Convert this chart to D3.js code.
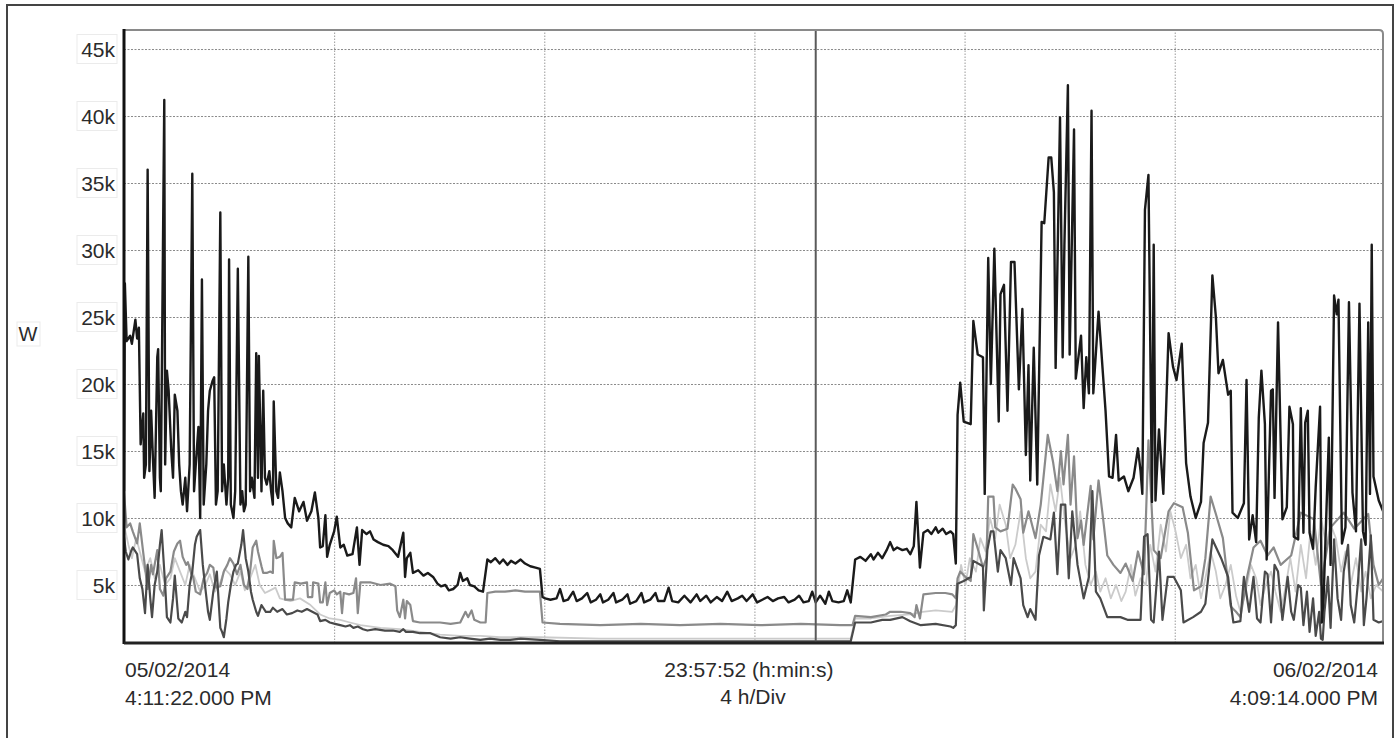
<!DOCTYPE html>
<html>
<head>
<meta charset="utf-8">
<script src="https://cdn.jsdelivr.net/npm/d3@7"></script>
<style>
  body { margin: 0; background: #fff; }
  svg text { font-family: "Liberation Sans", Arial, sans-serif; fill: #2b2b2b; }
  .grid line { stroke: #8a8a8a; stroke-width: 1; stroke-dasharray: 2 1.5; }
  .grid.vert line { stroke: #9a9a9a; stroke-dasharray: 1.5 1.5; }
  .grid path { display: none; }
</style>
</head>
<body>
<svg id="chart" width="1400" height="738"></svg>
<script>
// time in minutes since 05/02/2014 4:11:22 PM, power in kW
var spanMinutes = 1437.87;          // 23:57:52
var divMinutes = [240, 480, 720, 960, 1200];   // 4 h/Div
var cursorMinute = 790;
var yTicks = [5, 10, 15, 20, 25, 30, 35, 40, 45];

var total = [
  [0,12],[1,27.5],[3,23.2],[7,23.6],[9,23.0],[13,24.8],[15,23.4],[17,24.2],[19,15.5],[22,17.8],
  [23,13.0],[25,14.0],[27,36.0],[29,13.5],[31,18.0],[33,14.5],[35,11.5],[38,22.0],[39,22.6],[41,13.0],
  [42,12.0],[46,41.2],[47,14.0],[49,21.0],[51,19.5],[54,15.0],[56,13.0],[58,19.2],[61,18.0],[63,14.0],
  [65,12.0],[67,11.0],[70,13.0],[72,10.5],[75,14.0],[78,35.7],[80,12.0],[82,14.0],[85,16.8],[87,10.0],
  [89,27.8],[91,11.0],[94,14.0],[96,18.0],[98,19.5],[101,20.2],[103,20.5],[105,11.0],[107,12.0],[110,32.8],
  [112,12.0],[114,14.0],[117,11.0],[119,13.0],[120,29.3],[122,11.0],[125,10.0],[127,12.0],[130,28.6],[133,11.0],
  [135,12.0],[137,10.5],[139,11.0],[142,29.5],[144,12.0],[146,13.0],[149,11.5],[151,22.3],[153,13.0],[154,22.1],
  [157,12.0],[159,19.5],[161,13.0],[163,12.5],[166,13.5],[168,12.0],[170,11.0],[171,18.7],[174,12.0],[176,11.5],
  [178,13.4],[181,12.0],[184,10.0],[187,9.6],[191,9.3],[195,11.5],[200,10.5],[205,11.2],[209,9.8],[214,10.5],
  [218,11.9],[222,10.0],[224,7.8],[227,7.9],[230,10.2],[232,7.1],[235,8.0],[240,9.0],[243,10.1],[247,7.8],
  [251,8.0],[255,7.2],[261,7.3],[266,9.3],[269,6.5],[272,9.1],[277,8.8],[281,9.0],[285,8.4],[290,8.2],
  [296,8.0],[302,7.9],[307,7.6],[313,7.1],[319,8.9],[321,5.6],[323,7.0],[327,7.4],[330,5.9],[336,6.1],
  [342,5.7],[347,5.9],[353,5.6],[358,5.1],[362,4.9],[367,5.0],[371,4.6],[376,4.7],[381,5.0],[384,5.9],
  [387,5.3],[392,5.5],[395,5.0],[400,4.9],[405,4.6],[410,4.5],[415,6.9],[419,6.7],[424,7.0],[429,6.6],
  [433,6.9],[438,6.5],[442,6.8],[447,6.6],[453,6.9],[458,6.6],[464,6.4],[470,6.3],[475,6.2],[478,4.1],
  [481,4.0],[487,3.9],[494,4.0],[498,4.7],[502,3.8],[507,3.9],[513,4.5],[517,3.8],[523,4.0],[529,4.4],
  [533,3.7],[539,3.9],[544,4.3],[547,3.7],[553,3.9],[559,4.4],[562,3.7],[569,3.9],[575,4.3],[578,3.6],
  [585,3.8],[591,4.4],[594,3.7],[601,3.9],[607,4.4],[610,3.8],[617,3.8],[622,4.8],[626,3.8],[633,3.7],
  [640,4.2],[647,3.7],[654,4.3],[658,3.8],[665,4.2],[670,3.7],[677,4.1],[683,3.8],[689,4.5],[694,3.8],
  [701,4.0],[706,4.2],[711,3.8],[718,4.3],[723,3.7],[729,3.9],[735,4.1],[741,3.8],[747,4.0],[754,4.1],
  [759,3.7],[766,3.9],[771,4.2],[776,3.7],[782,3.8],[786,4.5],[790,3.7],[795,4.2],[801,3.6],[805,4.5],
  [809,3.8],[816,3.7],[822,3.8],[826,4.6],[830,3.7],[835,6.9],[841,7.1],[847,6.8],[853,7.3],[856,6.9],
  [861,7.4],[866,7.0],[871,7.6],[875,8.2],[879,7.6],[883,7.8],[889,7.6],[894,7.7],[898,7.3],[902,7.9],
  [905,11.2],[909,6.3],[913,8.9],[918,9.1],[922,8.8],[927,9.3],[930,8.9],[935,9.2],[939,8.8],[944,9.0],
  [947,8.8],[950,6.6],[952,17.7],[955,20.1],[959,17.2],[967,17.0],[970,24.7],[975,22.2],[981,22.0],[983,11.8],
  [987,29.4],[990,20.0],[994,30.1],[999,17.2],[1001,26.7],[1005,27.4],[1009,18.0],[1013,29.1],[1017,29.1],[1022,19.6],
  [1026,25.6],[1030,14.7],[1033,21.4],[1035,12.8],[1039,22.7],[1043,12.5],[1048,32.1],[1051,32.0],[1056,36.9],[1059,36.9],
  [1062,34.3],[1064,21.2],[1069,39.9],[1072,22.0],[1074,30.3],[1078,42.3],[1080,22.2],[1085,39.0],[1087,20.4],[1093,23.6],
  [1096,18.2],[1099,22.0],[1102,19.3],[1105,40.4],[1107,19.3],[1113,25.4],[1121,18.0],[1125,13.1],[1129,13.0],[1133,16.2],
  [1136,12.8],[1142,13.1],[1147,12.0],[1153,13.0],[1158,15.2],[1161,13.5],[1163,11.8],[1166,33.0],[1170,35.6],[1174,11.2],
  [1176,30.4],[1178,11.3],[1182,16.6],[1187,11.8],[1193,23.8],[1198,21.3],[1202,20.3],[1208,23.0],[1213,14.1],[1218,11.6],
  [1224,10.0],[1230,11.2],[1233,15.6],[1238,17.1],[1243,28.1],[1247,25.0],[1250,20.8],[1255,21.8],[1261,19.2],[1264,19.5],
  [1266,10.4],[1272,10.0],[1279,11.1],[1282,20.3],[1285,8.4],[1289,10.2],[1293,8.2],[1296,17.5],[1299,21.0],[1303,17.0],
  [1305,6.9],[1310,19.5],[1312,19.6],[1314,11.5],[1318,24.6],[1323,9.9],[1328,10.8],[1331,18.3],[1335,17.0],[1336,8.6],
  [1341,8.4],[1344,18.2],[1347,8.9],[1349,17.1],[1352,18.0],[1354,8.9],[1358,7.7],[1361,12.3],[1366,18.3],[1368,2.2],
  [1370,4.0],[1376,16.0],[1378,6.5],[1382,26.6],[1385,25.2],[1387,26.3],[1391,8.1],[1395,9.3],[1399,26.1],[1403,11.9],
  [1407,9.0],[1411,26.0],[1415,9.0],[1418,8.0],[1421,24.6],[1423,11.8],[1425,30.4],[1427,13.1],[1433,11.3],[1438,10.5]
];

var phaseA = [
  [0,11.9],[3,9.3],[7,9.6],[10,9.0],[15,8.1],[18,9.6],[22,7.4],[25,5.8],[27,4.7],[31,6.5],
  [33,5.8],[38,7.6],[41,4.7],[45,4.2],[48,5.5],[53,6.0],[57,7.5],[61,8.1],[64,8.3],[67,7.1],
  [71,6.5],[73,6.7],[77,5.8],[79,5.6],[82,4.5],[87,4.3],[91,5.5],[95,5.9],[98,6.5],[102,6.3],
  [105,4.8],[110,4.9],[114,6.0],[118,6.5],[121,7.0],[125,6.6],[129,5.8],[133,6.5],[137,5.0],[141,4.7],
  [144,6.0],[147,7.8],[151,8.3],[153,7.5],[157,6.4],[159,5.9],[163,5.9],[167,6.0],[170,5.9],[171,8.3],
  [174,7.0],[178,7.1],[181,7.4],[183,5.0],[184,3.9],[189,3.9],[193,3.9],[195,5.2],[202,5.1],[209,5.2],
  [210,4.1],[215,4.1],[216,5.2],[222,5.1],[224,3.7],[227,3.7],[230,5.2],[232,3.5],[235,4.4],[240,4.6],
  [243,4.3],[247,4.5],[249,2.9],[251,4.4],[257,4.3],[262,4.4],[265,5.5],[267,2.9],[270,5.2],[281,5.2],
  [293,5.0],[304,5.1],[310,4.9],[312,3.1],[315,2.6],[319,3.9],[321,2.5],[323,3.8],[327,3.5],[330,2.3],
  [338,2.2],[350,2.2],[361,2.2],[373,2.1],[384,2.2],[390,3.0],[393,2.6],[397,3.1],[400,2.4],[407,2.2],
  [413,2.2],[415,4.4],[424,4.5],[435,4.5],[447,4.6],[458,4.5],[470,4.5],[475,4.5],[478,2.2],[498,2.1],
  [544,2.0],[590,2.1],[635,2.0],[681,2.1],[727,2.0],[773,2.1],[818,2.0],[832,2.0],[835,2.7],[853,2.6],
  [870,2.8],[875,3.0],[887,3.0],[898,2.9],[903,2.6],[905,3.5],[909,2.5],[913,4.3],[927,4.4],[938,4.4],
  [946,4.3],[950,4.0],[952,5.5],[955,6.0],[961,5.6],[967,5.3],[970,8.8],[976,7.5],[981,6.3],[985,7.0],
  [987,11.6],[993,11.6],[995,9.3],[1001,9.0],[1009,9.2],[1015,12.5],[1018,12.2],[1024,11.4],[1027,8.9],[1033,10.5],
  [1041,8.5],[1047,11.0],[1055,16.2],[1061,14.2],[1066,12.0],[1070,15.0],[1073,12.5],[1078,16.2],[1081,11.0],[1085,14.6],
  [1089,8.5],[1093,9.8],[1096,8.0],[1104,12.4],[1107,8.4],[1113,12.8],[1119,9.5],[1123,7.2],[1130,6.5],[1138,5.9],
  [1144,6.6],[1152,5.3],[1158,7.5],[1165,5.8],[1170,15.8],[1176,7.6],[1184,7.0],[1193,10.5],[1199,11.1],[1209,10.8],
  [1215,8.9],[1222,4.6],[1230,4.9],[1235,7.0],[1241,11.6],[1247,10.3],[1255,8.5],[1264,3.4],[1270,3.0],[1275,2.6],
  [1283,5.7],[1290,7.8],[1298,8.3],[1306,7.2],[1313,7.8],[1321,6.5],[1333,7.2],[1344,10.4],[1359,9.9],[1367,5.0],
  [1378,9.3],[1393,10.4],[1405,9.2],[1421,10.3],[1427,6.5],[1433,5.0],[1438,5.5]
];

var phaseB = [
  [0,8.6],[2,7.5],[5,6.9],[8,7.5],[10,7.8],[15,7.3],[18,5.5],[21,4.7],[24,2.9],[27,6.5],
  [30,4.0],[32,2.6],[35,5.0],[38,6.0],[41,8.0],[43,9.1],[47,5.0],[49,2.6],[53,2.2],[56,4.0],
  [58,5.7],[62,2.5],[66,2.2],[70,3.0],[72,2.6],[75,5.0],[78,6.0],[81,8.0],[83,8.6],[87,9.1],
  [90,6.5],[93,4.7],[96,3.0],[98,2.4],[102,4.5],[106,6.0],[110,1.8],[112,1.5],[114,1.1],[117,2.5],
  [119,3.7],[122,5.0],[125,6.0],[128,6.5],[130,6.6],[134,8.0],[136,9.1],[139,7.0],[142,6.0],[145,4.5],
  [147,3.9],[151,3.0],[153,2.7],[157,3.5],[159,3.3],[162,3.0],[167,3.0],[170,3.3],[175,3.0],[181,3.2],
  [186,2.8],[192,2.9],[198,3.1],[203,3.0],[209,3.2],[215,3.0],[221,2.8],[224,2.3],[230,2.4],[235,2.2],
  [241,2.1],[247,2.0],[253,1.9],[258,2.0],[262,1.8],[267,1.9],[273,1.7],[278,1.6],[287,1.7],[298,1.6],
  [307,1.6],[315,1.5],[319,1.7],[322,1.5],[330,1.5],[338,1.4],[350,1.4],[361,1.1],[373,1.0],[384,1.1],
  [395,1.0],[407,0.9],[418,1.0],[430,0.9],[441,0.9],[453,1.0],[475,0.9],[498,0.8],[544,0.8],[601,0.8],
  [658,0.8],[715,0.8],[773,0.8],[830,0.8],[835,2.2],[853,2.2],[866,2.4],[875,2.4],[889,2.6],[898,2.3],
  [910,2.0],[927,2.1],[944,1.9],[947,1.8],[950,2.0],[952,5.1],[959,5.3],[967,5.6],[970,6.8],[981,6.4],
  [982,3.1],[986,7.6],[990,9.0],[993,9.0],[998,6.0],[1001,7.6],[1007,7.0],[1013,5.0],[1016,7.0],[1024,5.5],
  [1027,3.5],[1032,2.6],[1035,3.2],[1041,2.4],[1045,7.2],[1050,8.6],[1058,8.4],[1062,10.4],[1066,5.8],[1070,11.0],
  [1075,11.0],[1079,5.5],[1083,10.5],[1089,6.5],[1096,4.0],[1102,5.6],[1106,12.0],[1110,4.5],[1115,4.0],[1123,2.6],
  [1138,2.6],[1146,2.4],[1161,2.4],[1165,8.6],[1169,8.8],[1173,2.4],[1176,2.2],[1182,7.5],[1186,2.4],[1192,5.6],
  [1199,5.6],[1207,4.6],[1210,2.2],[1221,2.6],[1230,3.0],[1235,3.6],[1243,8.4],[1253,7.0],[1261,5.6],[1264,3.6],
  [1267,2.2],[1275,2.3],[1279,5.6],[1285,3.0],[1290,5.6],[1294,2.5],[1298,2.2],[1303,6.0],[1306,5.8],[1310,2.2],
  [1314,6.5],[1318,6.0],[1323,2.4],[1329,5.6],[1333,3.0],[1336,2.4],[1341,5.0],[1344,4.8],[1347,2.0],[1351,4.5],
  [1354,1.5],[1358,4.0],[1361,1.2],[1365,3.0],[1367,1.0],[1369,0.9],[1371,3.0],[1375,5.6],[1378,1.8],[1382,8.4],
  [1386,4.0],[1390,2.4],[1393,6.0],[1398,8.0],[1401,3.5],[1405,2.2],[1409,5.0],[1413,8.4],[1416,2.0],[1419,4.0],
  [1424,8.7],[1427,2.4],[1433,2.2],[1438,2.3]
];

var phaseC = [
  [0,9.5],[5,8.0],[9,7.0],[14,8.5],[18,7.5],[24,6.0],[30,7.0],[35,5.5],[41,6.5],[47,5.0],
  [53,5.5],[58,7.0],[64,6.0],[70,5.0],[75,6.5],[81,5.5],[87,4.5],[93,5.0],[98,5.8],[104,4.5],
  [110,5.2],[115,6.2],[121,5.8],[127,5.0],[133,6.0],[138,4.6],[144,5.5],[150,6.5],[155,5.0],[161,4.4],
  [167,4.6],[173,4.8],[178,4.0],[190,3.8],[201,4.0],[213,3.5],[224,2.8],[235,2.5],[247,2.4],[258,2.2],
  [270,2.0],[293,1.8],[315,1.7],[338,1.5],[361,1.3],[384,1.2],[407,1.2],[430,1.1],[475,1.1],[544,1.0],
  [658,1.0],[773,1.0],[830,1.0],[835,2.5],[853,2.5],[875,2.7],[898,2.8],[912,3.0],[927,3.1],[946,3.0],
  [950,3.5],[952,4.5],[956,6.5],[961,5.0],[966,7.0],[973,6.0],[978,8.5],[984,7.5],[989,10.0],[995,8.5],
  [1000,11.0],[1007,9.5],[1012,7.0],[1018,8.0],[1024,10.5],[1030,7.0],[1035,5.5],[1041,6.0],[1047,9.5],[1053,9.0],
  [1058,12.5],[1064,10.5],[1069,13.0],[1075,9.5],[1081,7.0],[1087,8.0],[1092,10.5],[1098,6.5],[1104,5.0],[1110,6.0],
  [1115,4.5],[1121,5.5],[1127,4.0],[1133,5.0],[1139,3.8],[1144,4.5],[1150,6.5],[1155,4.2],[1161,5.5],[1167,5.0],
  [1172,8.0],[1178,6.0],[1184,9.5],[1190,7.5],[1195,10.5],[1201,9.0],[1207,7.0],[1213,8.0],[1218,5.5],[1224,6.5],
  [1230,4.0],[1235,5.5],[1241,7.5],[1247,6.0],[1252,4.0],[1258,5.0],[1264,6.5],[1270,4.2],[1275,3.0],[1281,4.5],
  [1287,6.5],[1293,5.5],[1298,3.5],[1304,5.0],[1310,6.0],[1315,4.5],[1321,3.0],[1327,5.0],[1332,7.0],[1338,4.5],
  [1344,8.0],[1350,5.5],[1355,9.0],[1361,6.5],[1367,10.0],[1373,8.0],[1378,9.5],[1384,8.5],[1390,6.0],[1395,7.5],
  [1401,5.0],[1407,7.0],[1413,4.5],[1418,6.0],[1424,4.0],[1430,5.0],[1438,4.5]
];

var seriesList = [
  { name: "L3", data: phaseC, color: "#cbcbcb", width: 1.8 },
  { name: "L1", data: phaseA, color: "#8a8a8a", width: 2.2 },
  { name: "L2", data: phaseB, color: "#4a4a4a", width: 2.2 },
  { name: "Total", data: total, color: "#1a1a1a", width: 2.4 }
];

var svg = d3.select("#chart");
var plotL = 124, plotT = 30, plotR = 1383, plotB = 643;

var x = d3.scaleLinear().domain([0, spanMinutes]).range([plotL, plotR]);
var y = d3.scaleLinear().domain([0.67, 46.42]).range([plotB, plotT]);

// outer frame
svg.append("rect")
  .attr("x", 7).attr("y", 5).attr("width", 1386).attr("height", 745)
  .attr("fill", "none").attr("stroke", "#444").attr("stroke-width", 2);

svg.append("defs").append("clipPath").attr("id", "plotClip")
  .append("rect").attr("x", plotL).attr("y", plotT)
  .attr("width", plotR - plotL).attr("height", plotB - plotT);

// horizontal grid
svg.append("g").attr("class", "grid")
  .attr("transform", "translate(" + plotL + ",0)")
  .call(d3.axisLeft(y).tickValues(yTicks).tickSize(-(plotR - plotL)).tickFormat(""));

// vertical grid, 4 h/Div
svg.append("g").attr("class", "grid vert")
  .attr("transform", "translate(0," + plotB + ")")
  .call(d3.axisBottom(x).tickValues(divMinutes).tickSize(-(plotB - plotT)).tickFormat(""));

// series
var line = d3.line().x(function(d) { return x(d[0]); }).y(function(d) { return y(d[1]); });
var plot = svg.append("g").attr("clip-path", "url(#plotClip)");
plot.selectAll("path.series")
  .data(seriesList)
  .enter().append("path")
  .attr("class", "series")
  .attr("d", function(d) { return line(d.data); })
  .attr("fill", "none")
  .attr("stroke", function(d) { return d.color; })
  .attr("stroke-width", function(d) { return d.width; })
  .attr("stroke-linejoin", "round");

// cursor
svg.append("line")
  .attr("x1", x(cursorMinute)).attr("x2", x(cursorMinute))
  .attr("y1", plotT).attr("y2", plotB)
  .attr("stroke", "#5a5a5a").attr("stroke-width", 2);

// plot border
svg.append("path")
  .attr("d", "M" + plotL + "," + plotB + "V" + plotT + "H" + (plotR - 4) + "Q" + plotR + "," + plotT + " " + plotR + "," + (plotT + 4) + "V" + plotB)
  .attr("fill", "none").attr("stroke", "#8a8a8a").attr("stroke-width", 2);
svg.append("line")
  .attr("x1", plotL).attr("x2", plotL).attr("y1", plotT - 1).attr("y2", plotB + 1)
  .attr("stroke", "#111").attr("stroke-width", 3);
svg.append("line")
  .attr("x1", plotL).attr("x2", plotR + 1).attr("y1", plotB).attr("y2", plotB)
  .attr("stroke", "#222").attr("stroke-width", 3);

// y labels
var yAxis = svg.append("g")
  .attr("transform", "translate(" + (plotL - 9) + ",0)")
  .call(d3.axisLeft(y).tickValues(yTicks).tickSize(0).tickPadding(0)
    .tickFormat(function(d) { return d + "k"; }));
yAxis.select(".domain").remove();
yAxis.selectAll("text")
  .attr("font-size", 21)
  .attr("dy", "0.36em")
  .style("font-family", "Liberation Sans, Arial, sans-serif")
  .attr("fill", "#2b2b2b");
yAxis.selectAll(".tick").insert("rect", "text")
  .attr("x", -38).attr("y", -15).attr("width", 40).attr("height", 29)
  .attr("fill", "none").attr("stroke", "#ebebeb").attr("stroke-width", 1);

svg.append("rect")
  .attr("x", 17).attr("y", 322).attr("width", 23).attr("height", 24)
  .attr("fill", "none").attr("stroke", "#ebebeb");
svg.append("text").attr("x", 28).attr("y", 341).attr("text-anchor", "middle")
  .attr("font-size", 20).attr("fill", "#444").text("W");

// time labels
var timeLabels = [
  { text: "05/02/2014", x: 125, y: 677, anchor: "start" },
  { text: "4:11:22.000 PM", x: 125, y: 705, anchor: "start" },
  { text: "23:57:52 (h:min:s)", x: 749, y: 677, anchor: "middle" },
  { text: "4 h/Div", x: 753, y: 704, anchor: "middle" },
  { text: "06/02/2014", x: 1378, y: 677, anchor: "end" },
  { text: "4:09:14.000 PM", x: 1378, y: 705, anchor: "end" }
];
svg.selectAll("text.time")
  .data(timeLabels)
  .enter().append("text")
  .attr("class", "time")
  .attr("x", function(d) { return d.x; })
  .attr("y", function(d) { return d.y; })
  .attr("text-anchor", function(d) { return d.anchor; })
  .attr("font-size", 21)
  .text(function(d) { return d.text; });
</script>
</body>
</html>
